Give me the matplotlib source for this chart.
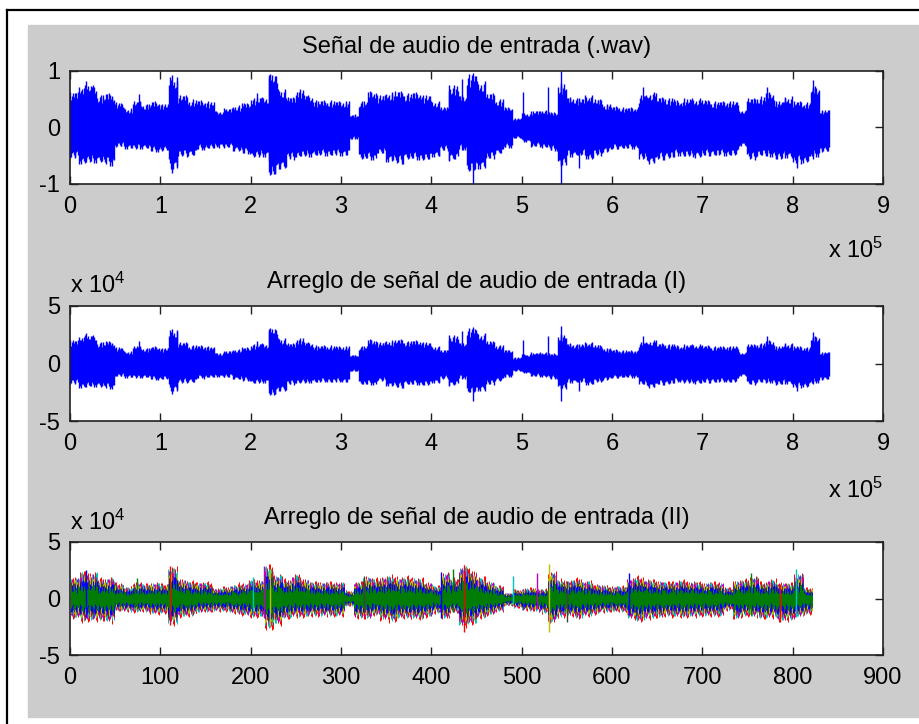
import numpy as np
import matplotlib.pyplot as plt
from matplotlib.lines import Line2D
from matplotlib.patches import Rectangle

plt.rcParams['font.family'] = ['Liberation Sans', 'DejaVu Sans']
plt.rcParams['mathtext.fontset'] = 'custom'
plt.rcParams['mathtext.rm'] = 'Liberation Sans'

# peak envelope of the .wav, one value per block of 10000 samples (full scale = 1)
block = 10000
n_samples = 841000
env_hi = [0.60, 0.72, 0.72, 0.55, 0.58, 0.42, 0.32, 0.45, 0.40, 0.44,
          0.40, 0.85, 0.55, 0.47, 0.46, 0.44, 0.28, 0.32, 0.37, 0.42,
          0.50, 0.52, 0.90, 0.65, 0.52, 0.65, 0.55, 0.46, 0.46, 0.45,
          0.45, 0.22, 0.45, 0.62, 0.55, 0.60, 0.62, 0.58, 0.60, 0.55,
          0.45, 0.35, 0.72, 0.55, 0.90, 0.78, 0.58, 0.48, 0.35, 0.16,
          0.25, 0.28, 0.30, 0.26, 0.75, 0.52, 0.50, 0.55, 0.48, 0.40,
          0.36, 0.34, 0.34, 0.55, 0.60, 0.52, 0.50, 0.46, 0.49, 0.49,
          0.47, 0.44, 0.45, 0.45, 0.30, 0.50, 0.52, 0.60, 0.45, 0.52,
          0.45, 0.42, 0.70, 0.30]
env_lo = [-0.53, -0.62, -0.60, -0.60, -0.65, -0.33, -0.36, -0.37, -0.36, -0.42,
          -0.40, -0.70, -0.50, -0.48, -0.38, -0.36, -0.34, -0.35, -0.40, -0.45,
          -0.51, -0.50, -0.82, -0.70, -0.55, -0.50, -0.50, -0.48, -0.48, -0.48,
          -0.48, -0.20, -0.54, -0.55, -0.45, -0.58, -0.62, -0.54, -0.55, -0.56,
          -0.50, -0.40, -0.55, -0.38, -0.75, -0.70, -0.54, -0.45, -0.35, -0.19,
          -0.25, -0.33, -0.34, -0.40, -0.66, -0.50, -0.48, -0.54, -0.48, -0.42,
          -0.37, -0.36, -0.36, -0.55, -0.62, -0.55, -0.52, -0.48, -0.50, -0.51,
          -0.49, -0.48, -0.48, -0.48, -0.32, -0.55, -0.48, -0.50, -0.55, -0.52,
          -0.62, -0.60, -0.50, -0.42]

# isolated peaks: position (x 1e5 samples), top and bottom
peak_x = [0.18, 0.76, 1.13, 2.07, 2.20, 2.27, 3.33, 4.20, 4.34, 4.465,
          5.02, 5.29, 5.43, 5.63, 6.34, 7.72, 8.05, 8.23]
peak_hi = [0.81, 0.59, 0.92, 0.60, 0.92, 0.84, 0.63, 0.75, 0.85, 0.96,
           0.63, 0.72, 0.99, 0.50, 0.72, 0.72, 0.40, 0.84]
peak_lo = [-0.55, -0.30, -0.80, -0.40, -0.60, -0.82, -0.40, -0.60, -0.40, -1.00,
           -0.20, -0.30, -1.00, -0.72, -0.50, -0.50, -0.72, -0.55]

int_scale = 32768      # int16 array
frame_len = 1024       # samples per column of the reshaped array

titles = ['Señal de audio de entrada (.wav)',
          'Arreglo de señal de audio de entrada (I)',
          'Arreglo de señal de audio de entrada (II)']

# old MATLAB colour order
mcolors = [(0, 0, 1), (0, 0.5, 0), (1, 0, 0), (0, 0.75, 0.75),
           (0.75, 0, 0.75), (0.75, 0.75, 0), (0.25, 0.25, 0.25)]

# fixed jitter so the block envelope does not draw as flat slabs
jit = np.array([1.0, 0.71, 0.88, 0.56, 0.95, 0.64, 0.80, 0.49, 0.92,
                0.60, 0.84, 0.68, 0.98, 0.53, 0.76, 0.90, 0.66])

W, H = 920, 724
FS = 17

fig = plt.figure(figsize=(W / 100, H / 100), dpi=100, facecolor='white')
fig.add_artist(Rectangle((28 / W, 1 - 717 / H), 1, (717 - 25) / H,
                         transform=fig.transFigure, color='#cccccc', zorder=-1))
fig.add_artist(Line2D([7.5 / W, 1], [1 - 10 / H, 1 - 10 / H], color='black', lw=1.6))
fig.add_artist(Line2D([7.5 / W, 7.5 / W], [0, 1 - 10 / H], color='black', lw=1.6))


def make_axes(top, bottom):
    ax = fig.add_axes([70 / W, 1 - bottom / H, (883 - 70) / W, (bottom - top) / H])
    ax.set_facecolor('white')
    for s in ax.spines.values():
        s.set_color('#202020')
        s.set_linewidth(1.2)
    ax.tick_params(direction='in', length=5.5, width=1.0, color='#202020',
                   top=True, right=True, labelsize=FS, pad=7)
    ax.tick_params(axis='x', pad=8.5)
    return ax


def draw_envelope(ax, scale):
    # one vertical stroke per 1000 samples, roughly one pixel column
    xs = np.arange(0, n_samples, 1000)
    b = np.minimum(xs // block, len(env_hi) - 1)
    col = np.arange(len(xs))
    fu = 0.55 + 0.5 * jit[(7 * col) % 17]
    fl = 0.55 + 0.5 * jit[(11 * col + 4) % 17]
    hi = np.array(env_hi)[b] * fu * scale
    lo = np.array(env_lo)[b] * fl * scale
    ax.vlines(xs, lo, hi, color='b', lw=1.0)
    ax.vlines(np.array(peak_x) * 1e5, np.array(peak_lo) * scale,
              np.array(peak_hi) * scale, color='b', lw=1.0)


# 1) raw .wav samples
ax1 = make_axes(70.7, 184)
draw_envelope(ax1, 1.0)
ax1.set_xlim(0, 9e5)
ax1.set_ylim(-1, 1)
ax1.set_xticks(np.arange(10) * 1e5, [str(i) for i in range(10)])
ax1.set_yticks([-1, 0, 1], ['-1', '0', '1'])
ax1.set_title(titles[0], fontsize=FS, pad=13)
ax1.text(1.0, -0.655, 'x 10$\\mathregular{^{5}}$', transform=ax1.transAxes,
         ha='right', va='baseline', fontsize=FS)

# 2) same samples as int16
ax2 = make_axes(306, 421)
draw_envelope(ax2, int_scale)
ax2.set_xlim(0, 9e5)
ax2.set_ylim(-5e4, 5e4)
ax2.set_xticks(np.arange(10) * 1e5, [str(i) for i in range(10)])
ax2.set_yticks([-5e4, 0, 5e4], ['-5', '0', '5'])
ax2.set_title(titles[1], fontsize=FS, pad=13)
ax2.text(0.0, 1.11, 'x 10$\\mathregular{^{4}}$', transform=ax2.transAxes,
         ha='left', va='baseline', fontsize=FS)
ax2.text(1.0, -0.67, 'x 10$\\mathregular{^{5}}$', transform=ax2.transAxes,
         ha='right', va='baseline', fontsize=FS)

# 3) reshaped into 1024-sample frames, one line per row
ax3 = make_axes(542, 655)
frames = np.arange(1, n_samples // frame_len + 1)
blk = np.minimum((frames - 1) * frame_len // block, len(env_hi) - 1)
hi3 = np.array(env_hi)[blk] * int_scale
lo3 = np.array(env_lo)[blk] * int_scale
layers = [2, 3, 4, 5, 6, 0, 1]          # green is the last row plotted
for n, k in enumerate(layers):
    fu = jit[(5 * frames + 3 * n) % 17]
    fl = jit[(9 * frames + 7 * n + 2) % 17]
    shrink = 1.0 - 0.07 * n
    if k == 1:
        shrink = 0.5
    ax3.vlines(frames, lo3 * fl * shrink * 1.05, hi3 * fu * shrink * 1.05,
               color=mcolors[k], lw=0.7)
px = np.array(peak_x) * 1e5 / frame_len
for i in range(len(px)):
    ax3.vlines(px[i], peak_lo[i] * int_scale * 0.9, peak_hi[i] * int_scale * 0.95,
               color=mcolors[i % 7], lw=1.0)
ax3.set_xlim(0, 900)
ax3.set_ylim(-5e4, 5e4)
ax3.set_xticks(np.arange(0, 1000, 100))
ax3.set_yticks([-5e4, 0, 5e4], ['-5', '0', '5'])
ax3.set_title(titles[2], fontsize=FS, pad=13)
ax3.text(0.0, 1.11, 'x 10$\\mathregular{^{4}}$', transform=ax3.transAxes,
         ha='left', va='baseline', fontsize=FS)

fig.savefig('out.png', dpi=100, facecolor='white')
